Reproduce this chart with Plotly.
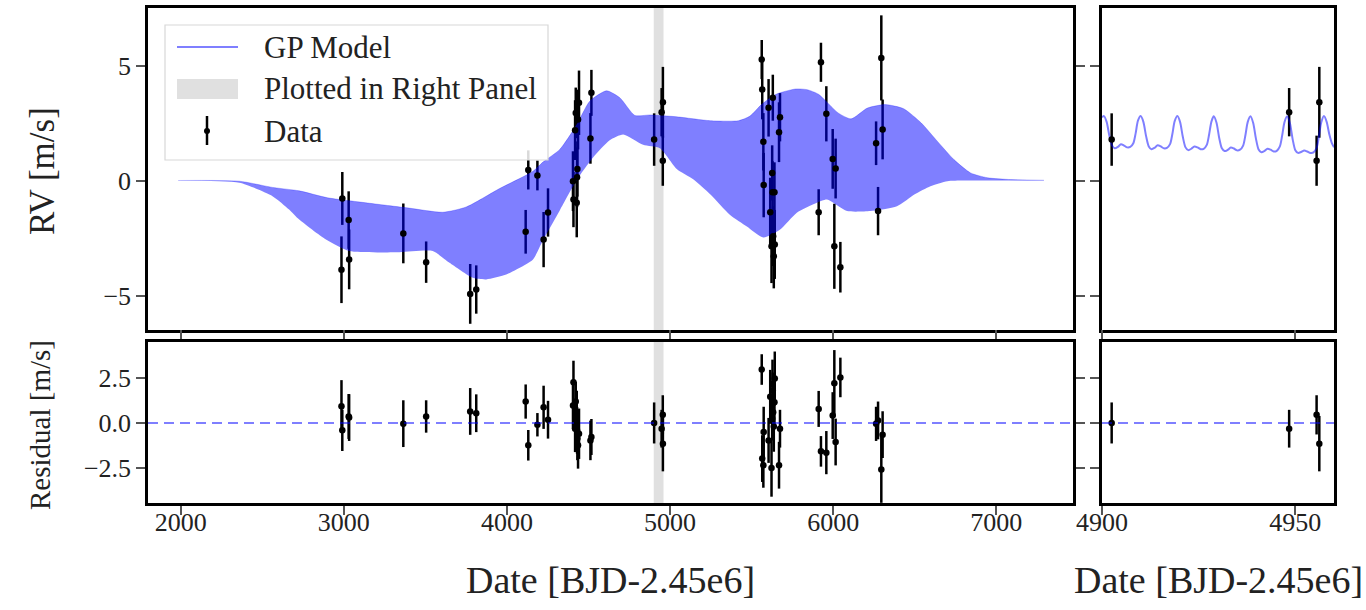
import plotly.graph_objects as go

# ---------------- observations ----------------
t_obs = [2986, 2991, 3030, 3033, 3365, 3505, 3775, 3812, 4115, 4131, 4187, 4225, 4252,
         4405, 4408, 4418, 4422, 4428, 4430, 4432, 4436, 4442, 4512, 4518,
         4902.5, 4948.4, 4955.5, 4956.2,
         5562, 5565, 5572, 5574, 5604, 5614, 5622, 5626, 5628, 5630, 5632, 5636, 5640, 5642, 5668, 5674,
         5911, 5925, 5958, 5997, 6007, 6015, 6044,
         6263, 6275, 6295, 6303]
rv_obs = [-3.88, -0.78, -1.72, -3.43, -2.30, -3.55, -4.93, -4.74, -2.23, 0.46, 0.22, -2.57, -1.39,
          -0.03, -0.83, 2.19, 2.94, -0.97, 0.14, 0.50, 2.65, 3.38, 1.83, 3.81,
          1.78, 2.97, 0.86, 3.40,
          5.26, 3.96, 1.68, -0.20, 3.16, -1.38, -2.86, 0.33, -0.51, 3.60, -2.42, -3.29, -0.51, -2.78, 2.10, 2.75,
          -1.38, 5.14, 2.90, 0.94, -2.86, 0.52, -3.77,
          1.62, -1.33, 5.33, 2.22]
rv_err = [1.45, 1.15, 1.25, 1.30, 1.30, 0.90, 1.30, 1.05, 0.95, 0.85, 0.65, 1.20, 1.05,
          1.30, 1.20, 1.30, 1.10, 1.50, 1.30, 1.20, 1.30, 1.40, 1.10, 1.00,
          1.14, 1.05, 1.09, 1.54,
          0.85, 1.30, 1.25, 1.40, 1.25, 1.50, 1.60, 1.20, 1.35, 1.00, 1.30, 1.40, 1.30, 1.50, 1.30, 1.05,
          1.00, 0.85, 1.20, 1.30, 1.85, 1.30, 1.10,
          0.95, 1.05, 1.85, 1.30]
resid = [0.93, -0.41, 0.36, 0.30, -0.04, 0.36, 0.64, 0.54, 1.19, -1.24, -0.10, 0.87, 0.18,
         0.97, 2.26, -0.32, 1.19, 0.29, -0.41, -0.87, -1.24, -0.60, -0.97, -0.78,
         0.00, -0.32, 0.45, -1.15,
         2.97, -1.98, -2.35, -0.50, -0.97, 1.45, -2.50, 0.23, 2.17, 1.80, 0.60, -0.20, 1.15, 2.47, -2.35, -0.32,
         0.78, -1.58, -1.65, 0.41, 2.20, -1.06, 2.53,
         -0.05, 0.14, -2.59, -0.65]

# ---------------- GP model: envelope over the full baseline ----------------
gp_up_t = [1985, 2360, 2563, 2727, 2900, 3136, 3400, 3607, 3751, 3955, 4160, 4221, 4324, 4426,
           4508, 4611, 4692, 4784, 4877, 5041, 5246, 5420, 5490, 5560, 5650, 5770, 5840, 5910,
           6030, 6110, 6210, 6320, 6432, 6540, 6638, 6740, 6842, 6945, 7088, 7292]
gp_up = [0.0, -0.03, -0.30, -0.45, -0.75, -0.97, -1.20, -1.38, -1.15, -0.35, 0.40, 0.80, 1.35, 2.40,
         3.45, 3.90, 3.60, 2.83, 2.85, 2.77, 2.60, 2.60, 2.80, 3.30, 3.75, 3.98, 3.95, 3.75,
         2.94, 2.68, 3.15, 3.30, 3.12, 2.50, 1.71, 0.91, 0.33, 0.12, 0.04, 0.01]
gp_lo_t = [1985, 2360, 2563, 2665, 2727, 2891, 3034, 3341, 3545, 3648, 3791, 3873, 3996, 4058,
           4160, 4221, 4324, 4426, 4528, 4630, 4713, 4835, 4938, 5041, 5142, 5246, 5368, 5471,
           5572, 5675, 5777, 5900, 5962, 6085, 6228, 6391, 6500, 6596, 6700, 6800, 7292]
gp_lo = [0.0, -0.10, -0.68, -1.26, -1.70, -2.57, -3.07, -3.12, -3.07, -3.58, -4.23, -4.30, -4.09, -3.87,
         -3.43, -2.60, -1.30, 0.00, 1.00, 1.75, 2.00, 1.55, 1.40, 0.50, 0.05, -0.60, -1.50, -2.00,
         -2.48, -2.13, -1.40, -0.97, -0.83, -1.33, -1.33, -1.12, -0.60, -0.25, -0.03, 0.00, 0.00]

# ---------------- GP model inside the zoom window ----------------
gp_zoom_t = [4900.0, 4900.5, 4901.2, 4901.9, 4902.6, 4903.3, 4904.1, 4904.9, 4905.7, 4906.5, 4907.3, 4908.1, 4908.7, 4909.3,
             4910.0, 4910.7, 4911.4, 4912.1, 4912.8, 4913.6, 4914.4, 4915.2, 4916.0, 4916.8, 4917.6, 4918.2, 4918.8,
             4919.5, 4920.2, 4920.9, 4921.6, 4922.3, 4923.1, 4923.9, 4924.7, 4925.5, 4926.3, 4927.1, 4927.7, 4928.3,
             4928.9, 4929.6, 4930.3, 4931.0, 4931.7, 4932.5, 4933.3, 4934.1, 4934.9, 4935.7, 4936.5, 4937.1, 4937.7,
             4938.4, 4939.1, 4939.8, 4940.5, 4941.2, 4942.0, 4942.8, 4943.6, 4944.4, 4945.2, 4946.0, 4946.6, 4947.2,
             4947.9, 4948.6, 4949.3, 4950.0, 4950.7, 4951.5, 4952.3, 4953.1, 4953.9, 4954.7, 4955.5, 4956.1, 4956.7,
             4957.4, 4958.1, 4958.8, 4959.5, 4960.0]
gp_zoom_rv = [2.75, 2.80, 2.55, 1.95, 1.52, 1.40, 1.46, 1.58, 1.52, 1.44, 1.46, 1.62, 2.05, 2.60,
              2.80, 2.55, 1.93, 1.48, 1.36, 1.42, 1.53, 1.48, 1.40, 1.42, 1.58, 2.02, 2.58,
              2.80, 2.54, 1.90, 1.44, 1.32, 1.38, 1.48, 1.44, 1.36, 1.38, 1.55, 2.00, 2.56,
              2.79, 2.52, 1.86, 1.40, 1.28, 1.33, 1.43, 1.39, 1.31, 1.34, 1.52, 1.98, 2.55,
              2.79, 2.50, 1.83, 1.35, 1.23, 1.28, 1.38, 1.34, 1.26, 1.29, 1.48, 1.96, 2.54,
              2.79, 2.49, 1.80, 1.32, 1.20, 1.24, 1.30, 1.26, 1.20, 1.22, 1.42, 1.92, 2.52,
              2.80, 2.55, 2.00, 1.60, 1.45]

window = [4900, 4960]
main_ticks = [2000, 3000, 4000, 5000, 6000, 7000]
zoom_ticks = [4900, 4950]
rv_ticks = [-5, 0, 5]
res_ticks = [-2.5, 0.0, 2.5]

W, H = 1366, 610
SERIF = "Liberation Serif"
BAND = "rgba(0,0,255,0.5)"
INK = "#222222"


def px(x):
    return x / W


def py(y):
    return 1 - y / H


fig = go.Figure()


def add_errorbars(xa, ya, vals):
    fig.add_trace(go.Scatter(
        x=t_obs, y=vals, mode="markers", xaxis=xa, yaxis=ya,
        marker=dict(color="rgba(0,0,0,0)", size=1),
        error_y=dict(type="data", array=rv_err, width=0, thickness=2.5, color="black"),
        showlegend=False, hoverinfo="skip"))


def add_dots(xa, ya, vals):
    fig.add_trace(go.Scatter(
        x=t_obs, y=vals, mode="markers", xaxis=xa, yaxis=ya,
        marker=dict(color="black", size=6.5),
        showlegend=False, hoverinfo="skip"))


# top-left: GP envelope over the data
add_errorbars("x", "y", rv_obs)
fig.add_trace(go.Scatter(x=gp_lo_t, y=gp_lo, mode="lines", xaxis="x", yaxis="y",
                         line=dict(width=0, shape="spline", smoothing=0.6),
                         showlegend=False, hoverinfo="skip"))
fig.add_trace(go.Scatter(x=gp_up_t, y=gp_up, mode="lines", xaxis="x", yaxis="y",
                         line=dict(width=0.5, color=BAND, shape="spline", smoothing=0.6),
                         fill="tonexty", fillcolor=BAND,
                         showlegend=False, hoverinfo="skip"))
add_dots("x", "y", rv_obs)

# top-right: GP curve inside the window
add_errorbars("x2", "y2", rv_obs)
fig.add_trace(go.Scatter(x=gp_zoom_t, y=gp_zoom_rv, mode="lines", xaxis="x2", yaxis="y2",
                         line=dict(width=2, color=BAND, shape="spline", smoothing=0.8),
                         showlegend=False, hoverinfo="skip"))
add_dots("x2", "y2", rv_obs)

# bottom: residuals
for xa, ya in (("x3", "y3"), ("x4", "y4")):
    add_errorbars(xa, ya, resid)
    add_dots(xa, ya, resid)

# window highlight in the left panels
for xa, ya in (("x", "y"), ("x3", "y3")):
    fig.add_shape(type="rect", xref=xa, yref=f"{ya} domain", x0=window[0], x1=window[1],
                  y0=0, y1=1, fillcolor="rgb(224,224,224)", line_width=0, layer="below")

# zero line on residual panels
for xa, ya in (("x3", "y3"), ("x4", "y4")):
    fig.add_shape(type="line", xref=f"{xa} domain", yref=ya, x0=0, x1=1, y0=0, y1=0,
                  line=dict(color=BAND, width=2, dash="10px,6px"), layer="above")

xl = [px(148), px(1073)]
xr = [px(1102), px(1334)]
yt = [py(330), py(8)]
yb = [py(503), py(342)]

axis_common = dict(showgrid=False, zeroline=False, showline=True, linecolor="black", linewidth=2.5,
                   ticks="outside", ticklen=9, tickwidth=1.5, tickcolor="#555555", automargin=False,
                   tickfont=dict(family=SERIF, size=26, color=INK))

fig.update_layout(
    template="none",
    width=W, height=H, margin=dict(l=0, r=0, t=0, b=0, pad=0), autosize=False,
    paper_bgcolor="white", plot_bgcolor="white",
    xaxis=dict(domain=xl, anchor="y", range=[1800, 7470], tickvals=main_ticks,
               showticklabels=False, mirror=True, **axis_common),
    yaxis=dict(domain=yt, anchor="x", range=[-6.5, 7.5], tickvals=rv_ticks,
               mirror="ticks", **axis_common),
    xaxis2=dict(domain=xr, anchor="y2", range=window, tickvals=zoom_ticks,
                showticklabels=False, mirror=True, **axis_common),
    yaxis2=dict(domain=yt, anchor="x2", range=[-6.5, 7.5], tickvals=rv_ticks,
                showticklabels=False, mirror=True, **axis_common),
    xaxis3=dict(domain=xl, anchor="y3", range=[1800, 7470], tickvals=main_ticks,
                mirror="ticks", ticklabelstandoff=-15, **axis_common),
    yaxis3=dict(domain=yb, anchor="x3", range=[-4.45, 4.5], tickvals=res_ticks, tickformat=".1f",
                mirror="ticks", **axis_common),
    xaxis4=dict(domain=xr, anchor="y4", range=window, tickvals=zoom_ticks,
                mirror="ticks", ticklabelstandoff=-15, **axis_common),
    yaxis4=dict(domain=yb, anchor="x4", range=[-4.45, 4.5], tickvals=res_ticks,
                showticklabels=False, mirror=True, **axis_common),
    showlegend=False,
)

# axis titles
titles = [
    ("RV [m/s]", px(42), py(171), 35, -90),
    ("Residual [m/s]", px(40), py(425), 29, -90),
    ("Date [BJD-2.45e6]", px(610), py(580), 38, 0),
    ("Date [BJD-2.45e6]", px(1218), py(580), 38, 0),
]
for text, x, y, size, ang in titles:
    fig.add_annotation(text=text, x=x, y=y, xref="paper", yref="paper", showarrow=False,
                       textangle=ang, xanchor="center", yanchor="middle",
                       font=dict(family=SERIF, size=size, color=INK))

# legend box
fig.add_shape(type="rect", xref="paper", yref="paper", x0=px(165), x1=px(548), y0=py(160), y1=py(25),
              fillcolor="rgba(255,255,255,0.85)", line=dict(color="#d8d8d8", width=1.2), layer="above")
fig.add_shape(type="line", xref="paper", yref="paper", x0=px(177), x1=px(238), y0=py(47), y1=py(47),
              line=dict(color=BAND, width=2), layer="above")
fig.add_shape(type="rect", xref="paper", yref="paper", x0=px(177), x1=px(238), y0=py(99), y1=py(79),
              fillcolor="rgb(224,224,224)", line_width=0, layer="above")
fig.add_shape(type="line", xref="paper", yref="paper", x0=px(207), x1=px(207), y0=py(145), y1=py(116),
              line=dict(color="black", width=2.5), layer="above")
fig.add_shape(type="circle", xref="paper", yref="paper", x0=px(204), x1=px(210), y0=py(134), y1=py(128),
              fillcolor="black", line_width=0, layer="above")
for text, y in (("GP Model", 47), ("Plotted in Right Panel", 89), ("Data", 131)):
    fig.add_annotation(text=text, x=px(262), y=py(y), xref="paper", yref="paper", showarrow=False,
                       xanchor="left", yanchor="middle",
                       font=dict(family=SERIF, size=31, color=INK))

fig.write_html("out.html")
